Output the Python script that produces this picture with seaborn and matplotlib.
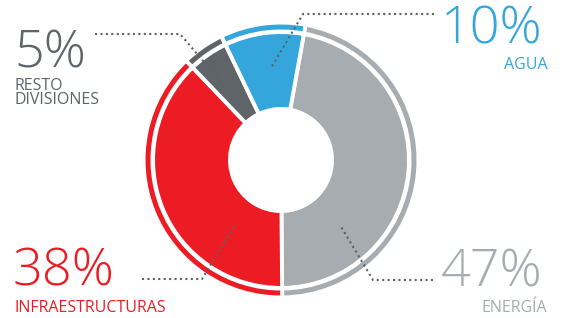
import matplotlib
matplotlib.use("Agg")
import matplotlib.pyplot as plt
import seaborn as sns

# ---- data ----
categories = ["ENERGÍA", "INFRAESTRUCTURAS", "RESTO\nDIVISIONES", "AGUA"]
values = [47, 38, 5, 10]
pct_labels = ["47%", "38%", "5%", "10%"]
colors = ["#a7acb0", "#ed1c24", "#5f6469", "#35a6dc"]

sns.set_theme(style="white")
plt.rcParams['font.family'] = ['Open Sans', 'DejaVu Sans']

W, H = 562, 318
fig = plt.figure(figsize=(W / 100, H / 100), dpi=100)
ax = fig.add_axes([0, 0, 1, 1])

cx, cy = 281, H - 160
lw = 2.8  # points, white separators
half = lw / 0.72 / 2  # half line width in px

r_out, r_in = 126, 53
ax.pie(values, colors=colors, startangle=79.7, counterclock=False,
       radius=r_out + half, center=(cx, cy),
       wedgeprops=dict(width=(r_out - r_in) + 2 * half, edgecolor="white", linewidth=lw))

ring_out, ring_in = 135.5, 130.5
ax.pie(values, colors=colors, startangle=79.7, counterclock=False,
       radius=ring_out + half, center=(cx, cy),
       wedgeprops=dict(width=(ring_out - ring_in) + 2 * half, edgecolor="white", linewidth=lw))

ax.set_xlim(0, W)
ax.set_ylim(0, H)
ax.set_aspect("equal")
ax.axis("off")

def fy(y):
    return H - y

lead = "#5c6167"
leaders = [
    [(433, 280), (373, 280), (340, 225)],
    [(142, 279), (202, 279), (235, 225)],
    [(95, 34), (180, 34), (228, 90)],
    [(434, 14), (303, 14), (271, 68)],
]
for pts in leaders:
    xs = [p[0] for p in pts]
    ys = [fy(p[1]) for p in pts]
    ax.plot(xs, ys, color=lead, linewidth=1.5, linestyle=(0, (1, 1.6)),
            dash_capstyle="butt", zorder=5)

big = 37.5
small = 11.5
bw = 300
sw = 400
# ENERGÍA
ax.text(543, fy(286.5), pct_labels[0], color=colors[0], fontsize=big, fontweight=bw,
        ha="right", va="baseline")
ax.text(547.5, fy(312), categories[0], color=colors[0], fontsize=small, fontweight=sw,
        ha="right", va="baseline")
# INFRAESTRUCTURAS
ax.text(13, fy(286), pct_labels[1], color=colors[1], fontsize=big, fontweight=bw,
        ha="left", va="baseline")
ax.text(14, fy(311.7), categories[1], color=colors[1], fontsize=small, fontweight=sw,
        ha="left", va="baseline")
# RESTO
ax.text(14, fy(67), pct_labels[2], color=colors[2], fontsize=big, fontweight=bw,
        ha="left", va="baseline")
ax.text(14, fy(104.5), categories[2], color=colors[2], fontsize=small, fontweight=sw,
        ha="left", va="baseline", multialignment="left", linespacing=0.9)
# AGUA
ax.text(543, fy(44), pct_labels[3], color=colors[3], fontsize=big, fontweight=bw,
        ha="right", va="baseline")
ax.text(547.5, fy(69), categories[3], color=colors[3], fontsize=small, fontweight=sw,
        ha="right", va="baseline")

fig.savefig("out.png", dpi=100)
